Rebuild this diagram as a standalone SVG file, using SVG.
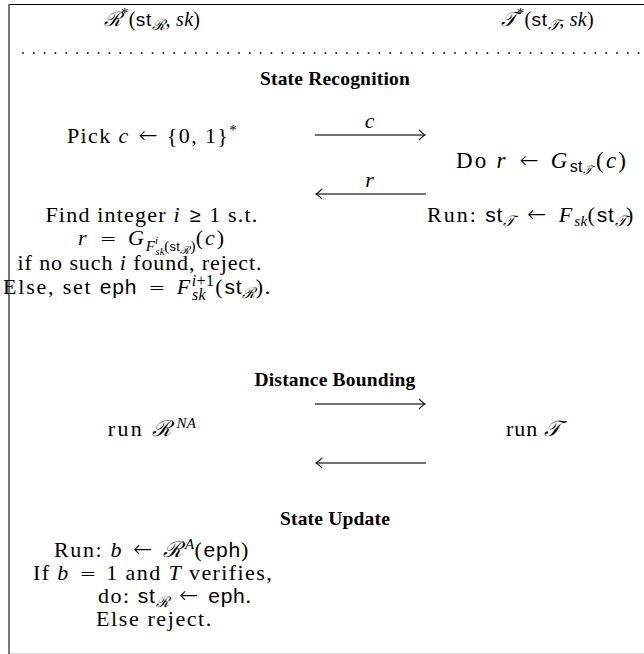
<svg xmlns="http://www.w3.org/2000/svg" width="644" height="654" viewBox="0 0 644 654">
<style>
text{font-family:"Liberation Serif","DejaVu Serif",serif;font-size:22px;letter-spacing:0.9px;fill:#000}
.b{font-weight:bold;font-size:19.5px;letter-spacing:0.2px}
.h{font-size:20px;letter-spacing:0.3px}
.i{font-style:italic}
.op{font-family:"DejaVu Sans","Liberation Sans",sans-serif;font-size:20px;letter-spacing:0;font-weight:200}
.ar{font-family:"DejaVu Sans","Liberation Sans",sans-serif;font-size:23px;letter-spacing:0;font-weight:200}
.sf{font-family:"Liberation Sans","DejaVu Sans",sans-serif;font-size:21px;letter-spacing:0.8px}
.s{font-size:15px;letter-spacing:0.3px}
.ss{font-size:11px;letter-spacing:0.2px}
.sfs{font-family:"Liberation Sans","DejaVu Sans",sans-serif;font-size:15px;letter-spacing:0.4px}
.cal{font-family:"DejaVu Serif","Liberation Serif",serif;font-style:italic}
.arr{stroke:#444;stroke-width:1.3;fill:none}
</style>
<defs>
<marker id="ah" markerWidth="10" markerHeight="12" refX="0" refY="0" viewBox="-8 -6 10 12" orient="auto" markerUnits="userSpaceOnUse">
<path d="M-6,-5 Q-2,-1 0,0 Q-2,1 -6,5" stroke="#222" stroke-width="1.2" fill="none"/>
</marker>
</defs>
<g id="frame">
<line x1="9" y1="4" x2="9" y2="654" stroke="#777" stroke-width="2"/>
<line x1="10" y1="4.5" x2="644" y2="4.5" stroke="#000" stroke-width="1.2"/>
<line x1="10" y1="653.5" x2="644" y2="653.5" stroke="#ddd" stroke-width="1"/>
<line x1="23" y1="53" x2="642" y2="53" stroke="#222" stroke-width="2" stroke-dasharray="0 10.8" stroke-linecap="round"/>
</g>
<g id="header-R"><text class="h" x="152" y="26" text-anchor="middle"><tspan class="cal">ℛ</tspan><tspan class="s" dy="-8">*</tspan><tspan dy="8">(</tspan><tspan class="sf" style="font-size:19px">st</tspan><tspan class="cal s" dy="4">ℛ</tspan><tspan dy="-4">, </tspan><tspan class="i">sk</tspan>)</text></g>
<g id="header-T"><text class="h" x="594" y="26" text-anchor="end"><tspan class="cal">𝒯</tspan><tspan class="s" dy="-8">*</tspan><tspan dy="8">(</tspan><tspan class="sf" style="font-size:19px">st</tspan><tspan class="cal s" dy="4">𝒯</tspan><tspan dy="-4">, </tspan><tspan class="i">sk</tspan>)</text></g>
<g id="sec-recognition"><text class="b" x="335" y="85" text-anchor="middle">State Recognition</text></g>
<g id="pick"><text x="152" y="143" text-anchor="middle" style="letter-spacing:1.4px">Pick <tspan class="i">c</tspan> <tspan class="ar" dx="2">←</tspan> <tspan dx="2">{0, 1}</tspan><tspan class="s" dy="-8">*</tspan></text></g>
<g id="do"><text x="456" y="168" style="font-size:23px;letter-spacing:2.2px">Do <tspan class="i">r</tspan> <tspan class="ar" dx="4">←</tspan> <tspan class="i" dx="4">G</tspan><tspan class="sfs" style="font-size:16px" dy="4">st</tspan><tspan class="cal" font-size="12" dy="2">𝒯</tspan><tspan dx="2" dy="-6">(</tspan><tspan class="i">c</tspan>)</text></g>
<g id="find">
<text x="152" y="222" text-anchor="middle" style="letter-spacing:1.2px">Find integer <tspan class="i">i</tspan> <tspan class="op" dx="2">≥</tspan> <tspan dx="2">1 s.t.</tspan></text>
<text x="152" y="245" text-anchor="middle" style="letter-spacing:1.9px"><tspan class="i">r</tspan> <tspan class="op" dx="4">=</tspan> <tspan class="i" dx="4">G</tspan><tspan class="i s" dy="6">F</tspan><tspan class="i ss" dy="4">sk</tspan><tspan class="i ss" dx="-10" dy="-11">i</tspan><tspan class="s" dx="6" dy="7">(</tspan><tspan class="sfs" style="font-size:13px">st</tspan><tspan class="cal ss" dy="3">ℛ</tspan><tspan class="s" dy="-3">)</tspan><tspan dy="-6">(</tspan><tspan class="i">c</tspan>)</text>
<text x="140" y="270" text-anchor="middle">if no such <tspan class="i">i</tspan> found, reject.</text>
<text x="3" y="294" style="letter-spacing:1.8px">Else, set <tspan class="sf">eph</tspan> <tspan class="op" dx="4">=</tspan> <tspan class="i" dx="4">F</tspan><tspan class="i s" style="font-size:16px" dy="6">sk</tspan><tspan class="s" style="font-size:16px" dx="-14" dy="-14"><tspan class="i">i</tspan>+1</tspan><tspan dx="1" dy="8">(</tspan><tspan class="sf">st</tspan><tspan class="cal s" dy="4">ℛ</tspan><tspan dy="-4">).</tspan></text>
</g>
<g id="run-T-state"><text x="427" y="222" style="letter-spacing:2px">Run: <tspan class="sf">st</tspan><tspan class="cal s" dy="4">𝒯</tspan><tspan dy="-4"> </tspan><tspan class="ar" dx="5">←</tspan> <tspan class="i" dx="5">F</tspan><tspan class="i s" dy="4">sk</tspan><tspan dy="-4">(</tspan><tspan class="sf">st</tspan><tspan class="cal s" dy="4">𝒯</tspan><tspan dy="-4">)</tspan></text></g>
<g id="sec-distance"><text class="b" x="335" y="386" text-anchor="middle">Distance Bounding</text></g>
<g id="run-RNA"><text x="152" y="436" text-anchor="middle" style="letter-spacing:2.4px">run <tspan class="cal">ℛ</tspan><tspan class="i s" dx="3" dy="-8">NA</tspan></text></g>
<g id="run-T"><text x="506" y="436">run <tspan class="cal">𝒯</tspan></text></g>
<g id="sec-update"><text class="b" x="335" y="525" text-anchor="middle">State Update</text></g>
<g id="update">
<text x="152" y="557" text-anchor="middle" style="letter-spacing:1.6px">Run: <tspan class="i">b</tspan> <tspan class="ar" dx="3">←</tspan> <tspan class="cal" dx="3">ℛ</tspan><tspan class="i s" dx="2" dy="-8">A</tspan><tspan dy="8">(</tspan><tspan class="sf">eph</tspan>)</text>
<text x="153" y="580" text-anchor="middle" style="letter-spacing:1.4px">If <tspan class="i">b</tspan> <tspan class="op" dx="3">=</tspan> <tspan dx="3">1 and </tspan><tspan class="i">T</tspan> verifies,</text>
<text x="98" y="603" style="letter-spacing:1.5px">do: <tspan class="sf">st</tspan><tspan class="cal s" dy="4">ℛ</tspan><tspan dy="-4"> </tspan><tspan class="ar" dx="3">←</tspan> <tspan class="sf" dx="3">eph</tspan>.</text>
<text x="96" y="626" style="letter-spacing:1.6px">Else reject.</text>
</g>
<g id="connectors">
<line class="arr" x1="315" y1="135" x2="425" y2="135" marker-end="url(#ah)"/>
<text class="i" x="370" y="128" text-anchor="middle">c</text>
<line class="arr" x1="426" y1="194" x2="316" y2="194" marker-end="url(#ah)"/>
<text class="i" x="370" y="187" text-anchor="middle">r</text>
<line class="arr" x1="315" y1="404" x2="425" y2="404" marker-end="url(#ah)"/>
<line class="arr" x1="426" y1="463" x2="316" y2="463" marker-end="url(#ah)"/>
</g>
</svg>
